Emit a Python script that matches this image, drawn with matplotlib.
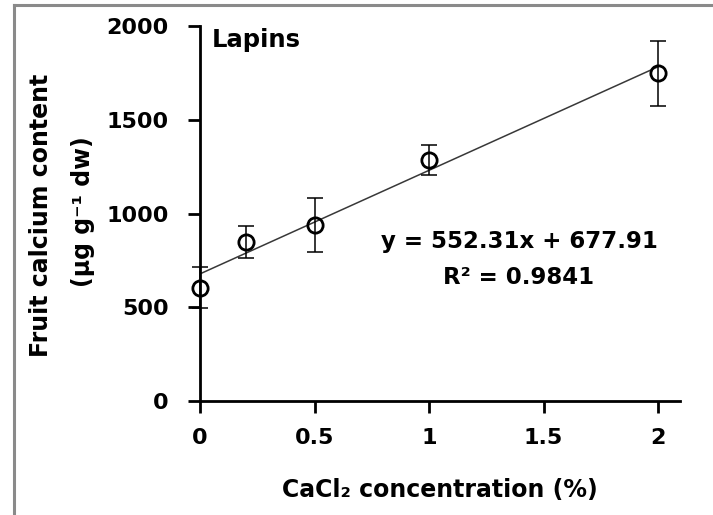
import matplotlib
matplotlib.use("Agg")
import matplotlib.pyplot as plt
from matplotlib.lines import Line2D
import numpy as np

plt.rcParams['font.family'] = ['DejaVu Sans']
plt.rcParams['font.weight'] = 'bold'

# CaCl2 concentration (%) and fruit calcium content (µg g-1 dw)
conc = [0, 0.2, 0.5, 1, 2]
calcium = [604, 846, 939, 1285, 1748]
calcium_err = [110, 85, 145, 78, 172]

# linear fit reported on the chart
slope = 552.31
intercept = 677.91
r_squared = 0.9841

x_ticks = [0, 0.5, 1, 1.5, 2]
x_tick_labels = ['0', '0.5', '1', '1.5', '2']
y_ticks = [0, 500, 1000, 1500, 2000]

fig = plt.figure(figsize=(7.13, 5.15), dpi=100)
ax = fig.add_axes([200 / 713, 1 - 401 / 515, 480 / 713, 375 / 515])

# trendline
fit_x = np.array([0, 2])
ax.plot(fit_x, slope * fit_x + intercept, color='#383838', lw=1.1, zorder=2)

# means with error bars
ax.errorbar(conc, calcium, yerr=calcium_err, fmt='none', ecolor='black',
            elinewidth=1.1, capsize=6, capthick=1.1, zorder=3, clip_on=False)
ax.plot(conc, calcium, 'o', mfc='none', mec='black', mew=2.0, ms=11,
        zorder=4, clip_on=False)

ax.set_xlim(0, 2.096)
ax.set_ylim(0, 2000)
ax.set_xticks(x_ticks)
ax.set_xticklabels(x_tick_labels)
ax.set_yticks(y_ticks)

for s in ['top', 'right']:
    ax.spines[s].set_visible(False)
for s in ['left', 'bottom']:
    ax.spines[s].set_linewidth(2.0)
ax.tick_params(axis='both', direction='out', length=8.5, width=2.0,
               labelsize=16)
ax.tick_params(axis='y', pad=14)
ax.tick_params(axis='x', pad=11)
for lab in ax.get_xticklabels() + ax.get_yticklabels():
    lab.set_fontweight('bold')

ax.text(0.025, 0.995, 'Lapins', transform=ax.transAxes, ha='left', va='top',
        fontsize=17.5, fontweight='bold')

ax.text(1.393, 853, f'y = {slope}x + {intercept}', ha='center', va='center',
        fontsize=16.5, fontweight='bold')
ax.text(1.393, 656, f'R² = {r_squared}', ha='center', va='center',
        fontsize=16.5, fontweight='bold')

fig.text(41 / 713, 1 - 215 / 515, 'Fruit calcium content', rotation=90,
         ha='center', va='center', fontsize=17, fontweight='bold')
fig.text(83 / 713, 1 - 212 / 515, '(µg g⁻¹ dw)', rotation=90,
         ha='center', va='center', fontsize=17, fontweight='bold')
fig.text(440 / 713, 1 - 490 / 515, 'CaCl₂ concentration (%)',
         ha='center', va='center', fontsize=17, fontweight='bold')

# outer chart frame
fig.add_artist(Line2D([14 / 713, 14 / 713], [0, 1 - 5 / 515],
                      transform=fig.transFigure, color='#8a8a8a', lw=2.2))
fig.add_artist(Line2D([14 / 713, 1], [1 - 5 / 515, 1 - 5 / 515],
                      transform=fig.transFigure, color='#8a8a8a', lw=2.2))

fig.savefig('out.png', dpi=100)
